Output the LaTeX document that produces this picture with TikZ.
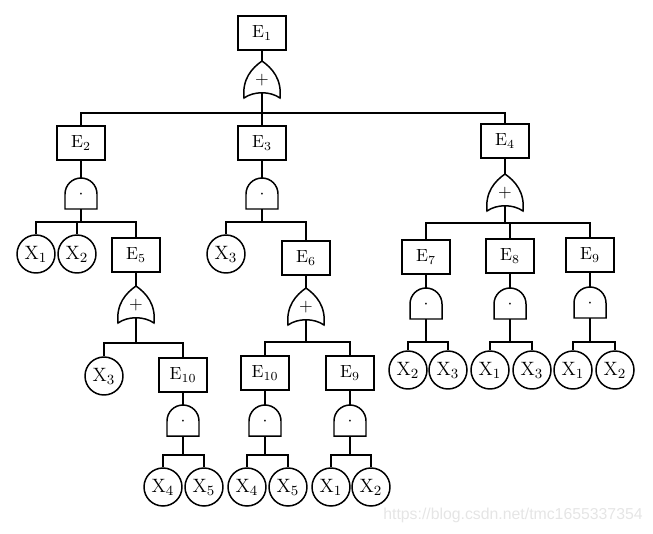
\documentclass[tikz,border=0pt]{standalone}
\usepackage{amsmath}
\usepackage{fontspec}
\newfontfamily\marksans{Liberation Sans}
\usepackage{tikz}

\tikzset{
	event/.style={draw, minimum width=0.96cm, minimum height=0.68cm, inner sep=0pt},
	basic/.style={draw, circle, minimum size=0.76cm, inner sep=0pt, font=\fontsize{11}{13}\selectfont},
	andgate/.pic={
		\draw (-16,31) -- (-16,16) arc[start angle=180, end angle=360, radius=16] -- (16,31) -- cycle;
		\node at (0,17) {$\cdot$};
		\coordinate (-top) at (0,0);
		\coordinate (-out) at (0,31);
	},
	orgate/.pic={
		\draw (-18,37) .. controls (-20,18) and (-10,7) .. (0,0) .. controls (10,7) and (20,18) .. (18,37)
			.. controls (8,30) and (-8,30) .. (-18,37) -- cycle;
		\node at (0,19) {$+$};
		\coordinate (-top) at (0,0);
		\coordinate (-out) at (0,32);
	}
}

\begin{document}
\begin{tikzpicture}[x=0.02cm, y=-0.02cm, line width=0.85pt]
		\useasboundingbox (0,0) rectangle (653,534);
		% top event
		\node [event] (E1) at (262,33) {E$_{1}$};
		\pic (gA) at (262,61) {orgate};
		\coordinate (bA) at (262,113);
		\draw (E1) -- (gA-top);
		\draw (gA-out) -- (bA);
		\node [event] (E2) at (81,143) {E$_{2}$};
		\node [event] (E3) at (262,143) {E$_{3}$};
		\node [event] (E4) at (505,141) {E$_{4}$};
		\draw (bA) -| (E2.north);
		\draw (bA) -- (E3.north);
		\draw (bA) -| (E4.north);
		% branch E2
		\pic (gB) at (81,178) {andgate};
		\coordinate (bB) at (81,222);
		\draw (E2) -- (gB-top);
		\draw (gB-out) -- (bB);
		\node [basic] (X1a) at (36,254) {X$_{1}$};
		\node [basic] (X2a) at (77,254) {X$_{2}$};
		\node [event] (E5) at (136,255) {E$_{5}$};
		\draw (bB) -| (X1a.north);
		\draw (bB) -| (X2a.north);
		\draw (bB) -| (E5.north);
		\pic (gH) at (136,286) {orgate};
		\coordinate (bH) at (136,343);
		\draw (E5) -- (gH-top);
		\draw (gH-out) -- (bH);
		\node [basic] (X3b) at (104,376) {X$_{3}$};
		\node [event] (E10a) at (183,375) {E$_{10}$};
		\draw (bH) -| (X3b.north);
		\draw (bH) -| (E10a.north);
		\pic (gI) at (183,405) {andgate};
		\coordinate (bI) at (183,455);
		\draw (E10a) -- (gI-top);
		\draw (gI-out) -- (bI);
		\node [basic] (X4a) at (163,487) {X$_{4}$};
		\node [basic] (X5a) at (204,487) {X$_{5}$};
		\draw (bI) -| (X4a.north);
		\draw (bI) -| (X5a.north);
		% branch E3
		\pic (gC) at (262,178) {andgate};
		\coordinate (bC) at (262,222);
		\draw (E3) -- (gC-top);
		\draw (gC-out) -- (bC);
		\node [basic] (X3a) at (226,254) {X$_{3}$};
		\node [event] (E6) at (306,258) {E$_{6}$};
		\draw (bC) -| (X3a.north);
		\draw (bC) -| (E6.north);
		\pic (gJ) at (306,288) {orgate};
		\coordinate (bJ) at (306,342);
		\draw (E6) -- (gJ-top);
		\draw (gJ-out) -- (bJ);
		\node [event] (E10b) at (265,373) {E$_{10}$};
		\node [event] (E9b) at (350,373) {E$_{9}$};
		\draw (bJ) -| (E10b.north);
		\draw (bJ) -| (E9b.north);
		\pic (gK) at (265,405) {andgate};
		\pic (gL) at (350,405) {andgate};
		\coordinate (bK) at (265,455);
		\coordinate (bL) at (350,455);
		\draw (E10b) -- (gK-top);
		\draw (E9b) -- (gL-top);
		\draw (gK-out) -- (bK);
		\draw (gL-out) -- (bL);
		\node [basic] (X4b) at (247,487) {X$_{4}$};
		\node [basic] (X5b) at (288,487) {X$_{5}$};
		\node [basic] (X1b) at (331,487) {X$_{1}$};
		\node [basic] (X2b) at (371,487) {X$_{2}$};
		\draw (bK) -| (X4b.north);
		\draw (bK) -| (X5b.north);
		\draw (bL) -| (X1b.north);
		\draw (bL) -| (X2b.north);
		% branch E4
		\pic (gD) at (505,174) {orgate};
		\coordinate (bD) at (505,223);
		\draw (E4) -- (gD-top);
		\draw (gD-out) -- (bD);
		\node [event] (E7) at (426,257) {E$_{7}$};
		\node [event] (E8) at (510,256) {E$_{8}$};
		\node [event] (E9a) at (590,255) {E$_{9}$};
		\draw (bD) -| (E7.north);
		\draw (bD) -| (E8.north);
		\draw (bD) -| (E9a.north);
		\pic (gE) at (426,288) {andgate};
		\pic (gF) at (510,288) {andgate};
		\pic (gG) at (590,287) {andgate};
		\coordinate (bE) at (426,342);
		\coordinate (bF) at (510,342);
		\coordinate (bG) at (590,342);
		\draw (E7) -- (gE-top);
		\draw (E8) -- (gF-top);
		\draw (E9a) -- (gG-top);
		\draw (gE-out) -- (bE);
		\draw (gF-out) -- (bF);
		\draw (gG-out) -- (bG);
		\node [basic] (X2c) at (408,370) {X$_{2}$};
		\node [basic] (X3c) at (448,370) {X$_{3}$};
		\node [basic] (X1c) at (490,370) {X$_{1}$};
		\node [basic] (X3d) at (532,370) {X$_{3}$};
		\node [basic] (X1d) at (573,370) {X$_{1}$};
		\node [basic] (X2d) at (615,370) {X$_{2}$};
		\draw (bE) -| (X2c.north);
		\draw (bE) -| (X3c.north);
		\draw (bF) -| (X1c.north);
		\draw (bF) -| (X3d.north);
		\draw (bG) -| (X1d.north);
		\draw (bG) -| (X2d.north);
		% watermark
		\node [text=black!10, font=\marksans\fontsize{9}{11}\selectfont] (mark) at (513,515) {https://blog.csdn.net/tmc1655337354};
	\end{tikzpicture}
\end{document}
